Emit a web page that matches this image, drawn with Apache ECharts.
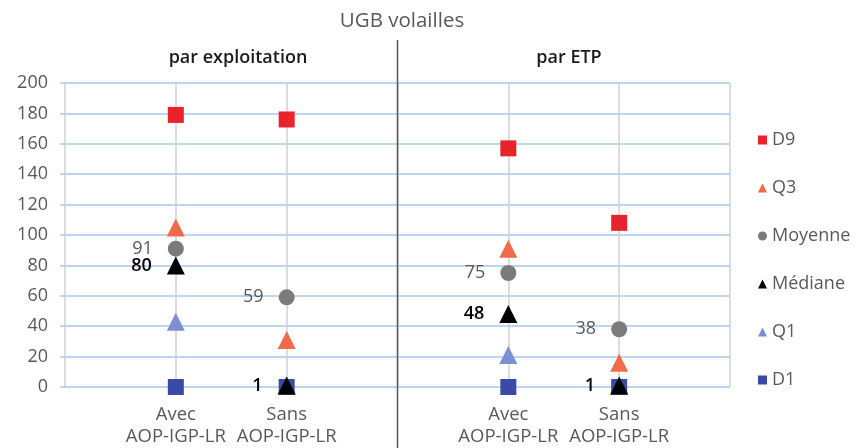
<!DOCTYPE html>
<html>
<head>
<meta charset="utf-8">
<script src="https://cdn.jsdelivr.net/npm/echarts@6/dist/echarts.min.js"></script>
<style>html,body{margin:0;padding:0;background:#fff}#c{width:864px;height:448px}</style>
</head>
<body>
<div id="c"></div>
<script>
// ---- data ----
const panels = ['par exploitation', 'par ETP'];
const groups = ['Avec\nAOP-IGP-LR', 'Sans\nAOP-IGP-LR'];
const yTicks = [0, 20, 40, 60, 80, 100, 120, 140, 160, 180, 200];
const seriesNames = ['D9', 'Q3', 'Moyenne', 'Médiane', 'Q1', 'D1'];
// values per panel: [Avec, Sans]
const D9_exploitation = [179, 176];
const D9_etp = [157, 108];
const Q3_exploitation = [105, 31];
const Q3_etp = [91, 16];
const Moyenne_exploitation = [91, 59];
const Moyenne_etp = [75, 38];
const Mediane_exploitation = [80, 1];
const Mediane_etp = [48, 1];
const Q1_exploitation = [43, 1];
const Q1_etp = [21, 1];
const D1_exploitation = [0, 0];
const D1_etp = [0, 0];

// ---- build axis slots: '', Avec, Sans, '', Avec, Sans, '' ----
const slots = [''];
panels.forEach(() => { groups.forEach(g => slots.push(g)); slots.push(''); });
function build(a, b) {
  const out = [null];
  [a, b].forEach(arr => { arr.forEach(v => out.push(v)); out.push(null); });
  return out;
}

const colors = {
  'D9': '#e8232b', 'Q3': '#f06a4c', 'Moyenne': '#7b7b7b',
  'Médiane': '#000000', 'Q1': '#7d8fd3', 'D1': '#3a4aa6'
};
const symbols = {
  'D9': 'rect', 'Q3': 'triangle', 'Moyenne': 'circle',
  'Médiane': 'triangle', 'Q1': 'triangle', 'D1': 'rect'
};
const sizes = {
  'D9': 16, 'Q3': [18, 18], 'Moyenne': 16,
  'Médiane': [18, 18], 'Q1': [18, 18], 'D1': 16
};
const zs = { 'D9': 4, 'Q3': 4, 'Moyenne': 5, 'Médiane': 6, 'Q1': 2, 'D1': 3 };
const values = {
  'D9': build(D9_exploitation, D9_etp),
  'Q3': build(Q3_exploitation, Q3_etp),
  'Moyenne': build(Moyenne_exploitation, Moyenne_etp),
  'Médiane': build(Mediane_exploitation, Mediane_etp),
  'Q1': build(Q1_exploitation, Q1_etp),
  'D1': build(D1_exploitation, D1_etp)
};

const FONT = '"Open Sans", sans-serif';

const series = seriesNames.map(n => {
  const s = {
    name: n, type: 'scatter', data: values[n],
    symbol: symbols[n], symbolSize: sizes[n], z: zs[n],
    itemStyle: { color: colors[n], opacity: 1 },
    emphasis: { disabled: true }
  };
  if (n === 'Moyenne') {
    s.label = { show: true, position: 'left', distance: 15, color: '#595959',
      fontSize: 18, fontFamily: FONT };
  }
  if (n === 'Médiane') {
    s.label = { show: true, position: 'left', distance: 15, color: '#000',
      fontSize: 18, fontWeight: 600, fontFamily: FONT };
  }
  return s;
});

const chart = echarts.init(document.getElementById('c'), null, { renderer: 'canvas' });
chart.setOption({
  animation: false,
  textStyle: { fontFamily: FONT },
  title: [
    { text: 'UGB volailles', left: 397, top: 6, textAlign: 'center',
      textStyle: { fontSize: 20.5, fontWeight: 'normal', color: '#595959', fontFamily: FONT } },
    { text: panels[0], left: 233, top: 44, textAlign: 'center',
      textStyle: { fontSize: 18, fontWeight: 600, color: '#1a1a1a', fontFamily: FONT } },
    { text: panels[1], left: 564, top: 44, textAlign: 'center',
      textStyle: { fontSize: 18, fontWeight: 600, color: '#1a1a1a', fontFamily: FONT } }
  ],
  legend: {
    orient: 'vertical', left: 753, top: 125,
    itemWidth: 9, itemHeight: 9, itemGap: 28,
    data: seriesNames,
    textStyle: { fontSize: 18, color: '#595959', fontFamily: FONT, lineHeight: 20,
      padding: [0, 0, 0, 0] },
    selectedMode: false
  },
  grid: { left: 65, right: 134, top: 83, bottom: 61 },
  xAxis: {
    type: 'category', data: slots, boundaryGap: false,
    axisLine: { show: false }, axisTick: { show: false },
    splitLine: { show: true, lineStyle: { color: '#d0d0d0', width: 1.5 } },
    axisLabel: { interval: 0, color: '#595959', fontSize: 18.5, lineHeight: 22,
      margin: 17, fontFamily: FONT }
  },
  yAxis: {
    type: 'value', min: yTicks[0], max: yTicks[yTicks.length - 1], interval: yTicks[1] - yTicks[0],
    axisLine: { show: false },
    axisTick: { show: true, length: 5, lineStyle: { color: '#a9c9e7', width: 1.5 } },
    splitLine: { lineStyle: { color: '#a9c9e7', width: 1.5 } },
    axisLabel: { color: '#595959', fontSize: 18, margin: 17, fontFamily: FONT }
  },
  series: series
});

// divider between the two panels, at the middle empty slot
const divX = chart.convertToPixel({ xAxisIndex: 0 }, 3);
chart.setOption({
  graphic: [{
    type: 'line', z: 10,
    shape: { x1: divX, y1: 40, x2: divX, y2: 448 },
    style: { stroke: '#595959', lineWidth: 1.5 }
  }]
});
</script>
</body>
</html>
